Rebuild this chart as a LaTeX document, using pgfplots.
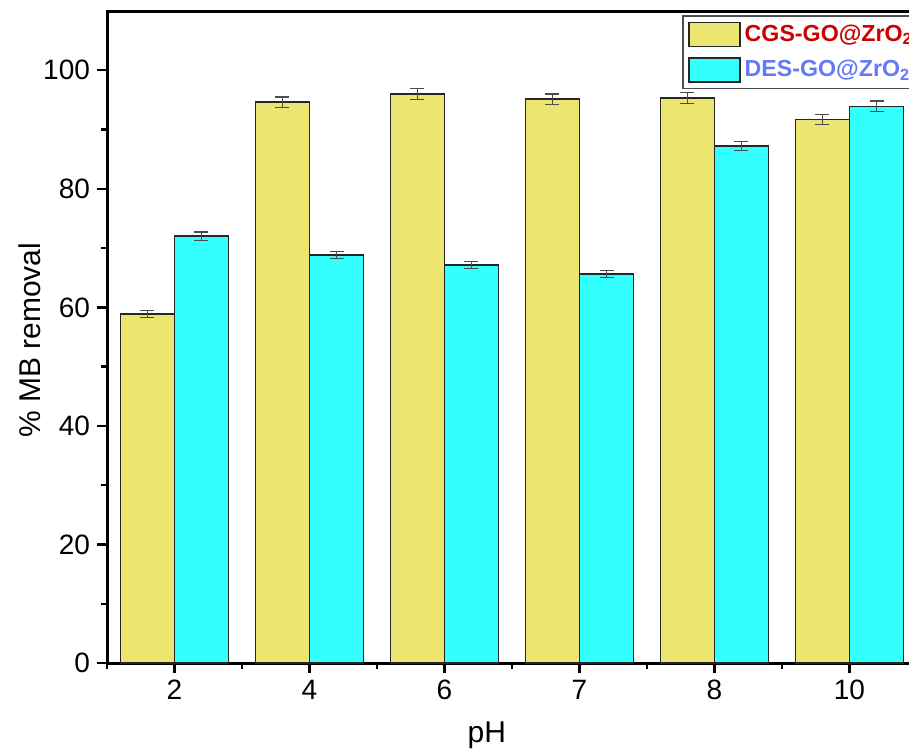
\documentclass[border=0pt]{standalone}
\usepackage{pgfplots}
\pgfplotsset{compat=1.18}
\usepackage{fontspec}
\setmainfont{Liberation Sans}
\definecolor{cgs}{RGB}{236,229,112}
\definecolor{des}{RGB}{51,255,255}
\definecolor{cgstext}{RGB}{204,0,0}
\definecolor{destext}{RGB}{100,120,250}
\begin{document}
\begin{tikzpicture}
\path[use as bounding box] (-53.5pt,-44pt) rectangle (401pt,331.5pt);
\begin{axis}[
  at={(0pt,0pt)}, anchor=south west,
  scale only axis, width=405pt, height=326pt,
  xmin=-0.5, xmax=5.5, ymin=0, ymax=110,
  ybar=0pt, bar width=27pt,
  xtick={0,1,2,3,4,5}, xticklabels={2,4,6,7,8,10},
  minor xtick={-0.5,0.5,1.5,2.5,3.5,4.5,5.5},
  ytick={0,20,40,60,80,100},
  minor ytick={10,30,50,70,90},
  xtick pos=bottom, ytick pos=left,
  tick align=outside,
  major tick length=5pt, minor tick length=3pt,
  every tick/.style={black, line width=1.2pt},
  axis line style={line width=1.5pt},
  /pgf/number format/assume math mode=true,
  tick label style={font=\fontsize{14}{16}\selectfont},
  label style={font=\fontsize{15}{17}\selectfont},
  xlabel={pH}, ylabel={\% MB removal},
  xlabel style={at={(axis description cs:0.469,0)}, anchor=north, yshift=-26pt},
  ylabel style={at={(axis description cs:-0.095,0.495)}, anchor=center, rotate=0},
  clip=false,
  legend cell align=left,
  legend image code/.code={\draw[#1, line width=0.9pt] (0pt,-6pt) rectangle (25.5pt,6pt);},
  legend style={at={(rel axis cs:0.71,0.994)}, anchor=north west,
    draw=black!70, line width=0.8pt, inner sep=2.5pt, row sep=4pt,
    font=\fontsize{11.6}{13}\selectfont\bfseries,
    /tikz/every even column/.append style={column sep=3pt}},
  error bars/error bar style={black!70, line width=0.6pt},
  error bars/error mark options={rotate=90, black!70, mark size=3.5pt, line width=0.6pt},
]
\addplot[fill=cgs, draw=black!85, line width=0.9pt,
  error bars/.cd, y dir=both, y explicit]
  coordinates {(0,58.9) +- (0,0.6) (1,94.6) +- (0,0.9) (2,96.0) +- (0,0.9) (3,95.1) +- (0,0.9) (4,95.3) +- (0,0.9) (5,91.7) +- (0,0.9)};
\addlegendentry{\textcolor{cgstext}{CGS-GO@ZrO\textsubscript{2}}}
\addplot[fill=des, draw=black!85, line width=0.9pt,
  error bars/.cd, y dir=both, y explicit]
  coordinates {(0,72.0) +- (0,0.7) (1,68.8) +- (0,0.6) (2,67.1) +- (0,0.6) (3,65.6) +- (0,0.6) (4,87.2) +- (0,0.8) (5,93.9) +- (0,0.9)};
\addlegendentry{\textcolor{destext}{DES-GO@ZrO\textsubscript{2}}}
\end{axis}
\end{tikzpicture}
\end{document}
